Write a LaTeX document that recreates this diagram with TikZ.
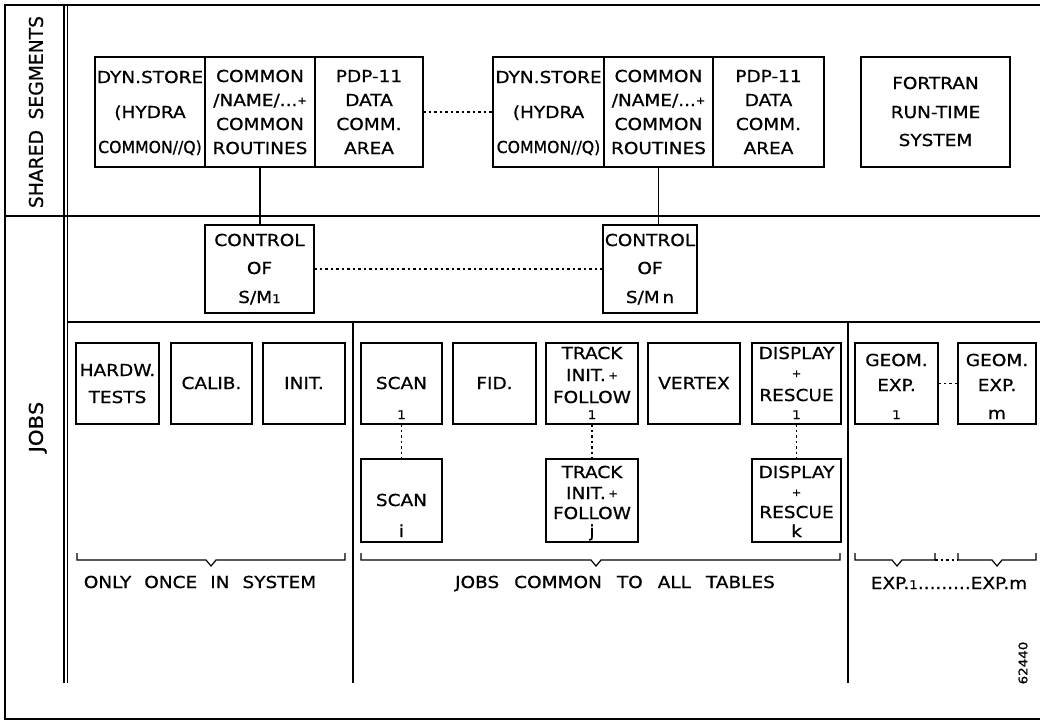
\documentclass[tikz,border=0pt]{standalone}
\usepackage{fontspec}
\setmainfont{DejaVu Sans}[FakeStretch=1.12,FakeBold=0.8]
\usetikzlibrary{fit}
\newcommand{\smp}{{\fontsize{10}{10}\selectfont\raisebox{2pt}{+}}}
\newcommand{\smone}{{\fontsize{12}{12}\selectfont 1}}
\newcommand{\wsp}{\hspace{13pt}}
\newcommand{\bracedraw}[3]{\draw[brk] (#1,553) -- (#1,560) -- (#3-5,560) -- (#3,566) -- (#3+5,560) -- (#2,560) -- (#2,553);}
\begin{document}
\begin{tikzpicture}[x=1pt,y=-1pt,
  every node/.style={inner sep=0pt, outer sep=0pt},
  box/.style={draw, line width=1.4pt, inner sep=0pt},
  lbl/.style={text height=12pt, text depth=0pt, font=\fontsize{16.5}{19}\selectfont},
  idx/.style={anchor=base, font=\fontsize{12}{12}\selectfont},
  lidx/.style={anchor=base, font=\fontsize{16.5}{19}\selectfont},
  side/.style={rotate=90, text height=13.8pt, text depth=0pt, font=\fontsize{19}{22}\selectfont},
  dots/.style={line width=1.4pt, dash pattern=on 2.5pt off 3pt},
  frame/.style={line width=1.4pt},
  conn/.style={line width=1.4pt},
  brk/.style={line width=1.2pt}
]
\useasboundingbox (0,0) rectangle (1040,724);
% frame and section lines
\draw[frame] (1040,5) -- (5,5) -- (5,719) -- (1040,719);
\draw[frame] (64,5) -- (64,683);
\draw[frame] (67.5,5) -- (67.5,683);
\draw[frame] (5,216) -- (1040,216);
\draw[frame] (67.5,322) -- (1040,322);
\draw[frame] (353,322) -- (353,683);
\draw[frame] (848,322) -- (848,683);

% side labels
\node[side] (lshared) at (36,112) {\scalebox{0.88}[1]{SHARED\hspace{12pt}SEGMENTS}};
\node[side] (ljobs) at (36,427) {JOBS};

% shared segment boxes
\node[box, fit={(95,57)(205,167)}] (g1a) {};
\node[box, fit={(205,57)(315,167)}] (g1b) {};
\node[box, fit={(315,57)(423,167)}] (g1c) {};
\node[box, fit={(493,57)(604,167)}] (g2a) {};
\node[box, fit={(604,57)(713,167)}] (g2b) {};
\node[box, fit={(713,57)(824,167)}] (g2c) {};
\node[box, fit={(861,57)(1010,167)}] (frt) {};

\node[lbl] (t1) at (150,77) {DYN.STORE};
\node[lbl] (t2) at (150,112) {(HYDRA};
\node[lbl] (t3) at (150,147) {\scalebox{0.85}[1]{COMMON//Q)}};
\node[lbl] (t4) at (260,76) {COMMON};
\node[lbl] (t5) at (260,100) {/NAME/...\smp};
\node[lbl] (t6) at (260,124) {COMMON};
\node[lbl] (t7) at (260,148) {ROUTINES};
\node[lbl] (t8) at (369,76) {PDP-11};
\node[lbl] (t9) at (369,100) {DATA};
\node[lbl] (t10) at (369,124) {COMM.};
\node[lbl] (t11) at (369,148) {AREA};

\node[lbl] (u1) at (548.5,77) {DYN.STORE};
\node[lbl] (u2) at (548.5,112) {(HYDRA};
\node[lbl] (u3) at (548.5,147) {\scalebox{0.85}[1]{COMMON//Q)}};
\node[lbl] (u4) at (658.5,76) {COMMON};
\node[lbl] (u5) at (658.5,100) {/NAME/...\smp};
\node[lbl] (u6) at (658.5,124) {COMMON};
\node[lbl] (u7) at (658.5,148) {ROUTINES};
\node[lbl] (u8) at (768.5,76) {PDP-11};
\node[lbl] (u9) at (768.5,100) {DATA};
\node[lbl] (u10) at (768.5,124) {COMM.};
\node[lbl] (u11) at (768.5,148) {AREA};

\node[lbl] (f1) at (935.5,83) {FORTRAN};
\node[lbl] (f2) at (935.5,112) {RUN-TIME};
\node[lbl] (f3) at (935.5,140) {SYSTEM};

% control boxes
\node[box, fit={(205,225)(314,313)}] (c1) {};
\node[box, fit={(603,225)(697,313)}] (cn) {};
\node[lbl] (c1a) at (259.5,240) {CONTROL};
\node[lbl] (c1b) at (259.5,268) {OF};
\node[lbl] (c1c) at (259.5,297) {S/M\smone};
\node[lbl] (cna) at (650,240) {CONTROL};
\node[lbl] (cnb) at (650,268) {OF};
\node[lbl] (cnc) at (650,297) {S/M\,n};

% job boxes
\node[box, fit={(76,343)(159,424)}] (hw) {};
\node[box, fit={(171,343)(252,424)}] (cal) {};
\node[box, fit={(263,343)(345,424)}] (ini) {};
\node[box, fit={(361,343)(442,424)}] (sc1) {};
\node[box, fit={(361,459)(442,542)}] (sci) {};
\node[box, fit={(453,343)(536,424)}] (fid) {};
\node[box, fit={(546,343)(638,424)}] (tr1) {};
\node[box, fit={(546,459)(638,542)}] (trj) {};
\node[box, fit={(648,343)(740,424)}] (vtx) {};
\node[box, fit={(752,343)(841,424)}] (ds1) {};
\node[box, fit={(752,459)(841,542)}] (dsk) {};
\node[box, fit={(855,343)(938,424)}] (ge1) {};
\node[box, fit={(958,343)(1036,424)}] (gem) {};

\node[lbl] (hw1) at (117.5,370) {HARDW.};
\node[lbl] (hw2) at (117.5,397) {TESTS};
\node[lbl] (cal1) at (211.5,383) {CALIB.};
\node[lbl] (ini1) at (304,383) {INIT.};
\node[lbl] (sc1a) at (401.5,383) {SCAN};
\node[idx] (sc1b) at (401.5,419) {1};
\node[lbl] (scia) at (401.5,500) {SCAN};
\node[lidx] (scib) at (401.5,537) {i};
\node[lbl] (fid1) at (494.5,383) {FID.};
\node[lbl] (tr1a) at (592,353) {TRACK};
\node[lbl] (tr1b) at (592,375) {INIT.\,\smp};
\node[lbl] (tr1c) at (592,397) {FOLLOW};
\node[idx] (tr1d) at (592,419) {1};
\node[lbl] (trja) at (592,472) {TRACK};
\node[lbl] (trjb) at (592,493) {INIT.\,\smp};
\node[lbl] (trjc) at (592,513) {FOLLOW};
\node[lidx] (trjd) at (592,537) {j};
\node[lbl] (vtx1) at (694,383) {VERTEX};
\node[lbl] (ds1a) at (796.5,353) {DISPLAY};
\node[lbl] (ds1b) at (796.5,373) {\smp};
\node[lbl] (ds1c) at (796.5,395) {RESCUE};
\node[idx] (ds1d) at (796.5,419) {1};
\node[lbl] (dska) at (796.5,472) {DISPLAY};
\node[lbl] (dskb) at (796.5,492) {\smp};
\node[lbl] (dskc) at (796.5,512) {RESCUE};
\node[lidx] (dskd) at (796.5,537) {k};
\node[lbl] (ge1a) at (896.5,360) {GEOM.};
\node[lbl] (ge1b) at (896.5,385) {EXP.};
\node[idx] (ge1c) at (896.5,419) {1};
\node[lbl] (gema) at (997,360) {GEOM.};
\node[lbl] (gemb) at (997,385) {EXP.};
\node[lidx] (gemc) at (997,419) {m};

% connectors
\draw[dots] (g1c.east) -- (g2a.west);
\draw[conn] (g1b.south) -- (g1b.south |- c1.north);
\draw[conn] (g2b.south) -- (g2b.south |- cn.north);
\draw[dots] (c1.east) -- (cn.west);
\draw[dots] (sc1.south) -- (sci.north);
\draw[dots] (tr1.south) -- (trj.north);
\draw[dots] (ds1.south) -- (dsk.north);
\draw[dots] (ge1.east) -- (gem.west);

% brackets
\bracedraw{77}{345}{211}
\bracedraw{361}{840}{596}
\bracedraw{855}{935}{897}
\bracedraw{958}{1036}{997}
\draw[dots] (935,560) -- (958,560);

\node[lbl] (b1) at (200,582) {ONLY\wsp ONCE\wsp IN\wsp SYSTEM};
\node[lbl] (b2) at (615,582) {JOBS\hspace{15pt}COMMON\hspace{15pt}TO\hspace{15pt}ALL\hspace{15pt}TABLES};
\node[lbl] (b3) at (949,583) {EXP.\smone.........EXP.m};

\node[rotate=90, font=\fontsize{12}{12}\selectfont] (num) at (1023,663) {62440};
\end{tikzpicture}
\end{document}
